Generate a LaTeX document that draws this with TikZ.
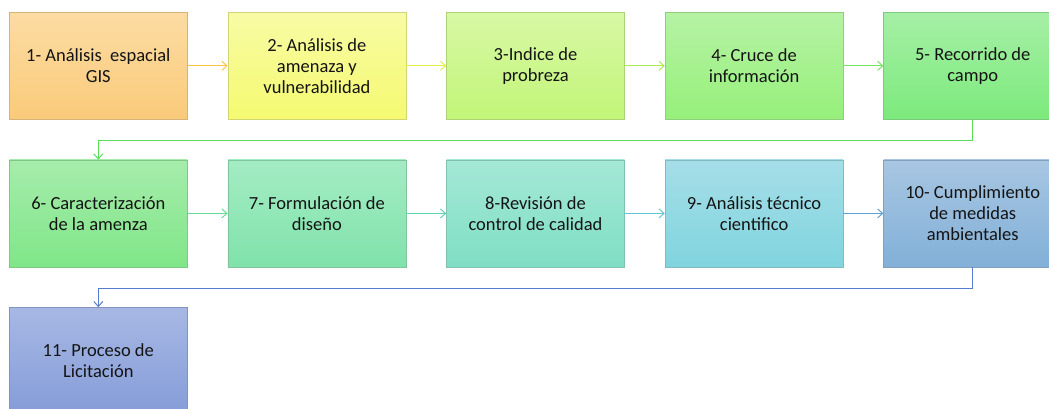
\documentclass[tikz,border=0pt]{standalone}
\usepackage{fontspec}
\setmainfont{Carlito}
\usetikzlibrary{positioning,arrows.meta}

% box colours, top and bottom of each shading
\definecolor{aTop}{RGB}{252,220,163}\definecolor{aBot}{RGB}{250,202,122}
\definecolor{bTop}{RGB}{248,251,165}\definecolor{bBot}{RGB}{245,250,112}
\definecolor{cTop}{RGB}{216,247,165}\definecolor{cBot}{RGB}{194,246,120}
\definecolor{dTop}{RGB}{182,242,165}\definecolor{dBot}{RGB}{150,240,122}
\definecolor{eTop}{RGB}{166,239,166}\definecolor{eBot}{RGB}{124,234,124}
\definecolor{fTop}{RGB}{166,236,172}\definecolor{fBot}{RGB}{128,230,136}
\definecolor{gTop}{RGB}{164,236,196}\definecolor{gBot}{RGB}{128,226,170}
\definecolor{hTop}{RGB}{164,232,214}\definecolor{hBot}{RGB}{128,222,196}
\definecolor{iTop}{RGB}{166,222,232}\definecolor{iBot}{RGB}{128,212,222}
\definecolor{jTop}{RGB}{168,198,226}\definecolor{jBot}{RGB}{130,176,216}
\definecolor{kTop}{RGB}{168,184,228}\definecolor{kBot}{RGB}{132,156,216}
% connector colours
\definecolor{aLink}{RGB}{255,196,70}
\definecolor{bLink}{RGB}{228,238,70}
\definecolor{cLink}{RGB}{170,236,80}
\definecolor{dLink}{RGB}{115,230,95}
\definecolor{eLink}{RGB}{90,222,90}
\definecolor{fLink}{RGB}{100,220,145}
\definecolor{gLink}{RGB}{95,212,178}
\definecolor{hLink}{RGB}{95,200,212}
\definecolor{iLink}{RGB}{95,160,214}
\definecolor{jLink}{RGB}{85,125,206}

\begin{document}
\begin{tikzpicture}[x=1pt,y=1pt,
    proc/.style={rectangle, minimum width=178pt, minimum height=107pt,
        align=center, inner sep=2pt, line width=0.6pt,
        top color=#1Top, bottom color=#1Bot, draw=#1Bot!70!gray,
        text=black!92, font=\fontsize{18.5}{21}\selectfont},
    link/.style={draw=#1Link, line width=1pt,
        -{Straight Barb[length=5pt,width=9pt]}},
    node distance=40pt and 40pt]
    \clip (0,0) rectangle (1049,-408);
    \node[proc=a, anchor=north west] (p1) at (9,-12) {1- Análisis\ \ espacial\\GIS};
    \node[proc=b, right=of p1] (p2) {2- Análisis de\\amenaza y\\vulnerabilidad};
    \node[proc=c, right=of p2] (p3) {3-Indice de\\probreza};
    \node[proc=d, right=of p3] (p4) {4- Cruce de\\información};
    \node[proc=e, right=of p4] (p5) {5- Recorrido de\\campo};
    \node[proc=f, below=of p1] (p6) {6- Caracterización\\de la amenza};
    \node[proc=g, right=of p6] (p7) {7- Formulación de\\diseño};
    \node[proc=h, right=of p7] (p8) {8-Revisión de\\control de calidad};
    \node[proc=i, right=of p8] (p9) {9- Análisis técnico\\cientifico};
    \node[proc=j, right=of p9] (p10) {10- Cumplimiento\\de medidas\\ambientales};
    \node[proc=k, below=of p6] (p11) {11- Proceso de\\Licitación};
    \draw[link=a] (p1) -- (p2);
    \draw[link=b] (p2) -- (p3);
    \draw[link=c] (p3) -- (p4);
    \draw[link=d] (p4) -- (p5);
    \draw[link=e] (p5.south) -- ++(0,-21) -| (p6.north);
    \draw[link=f] (p6) -- (p7);
    \draw[link=g] (p7) -- (p8);
    \draw[link=h] (p8) -- (p9);
    \draw[link=i] (p9) -- (p10);
    \draw[link=j] (p10.south) -- ++(0,-21) -| (p11.north);
\end{tikzpicture}
\end{document}
